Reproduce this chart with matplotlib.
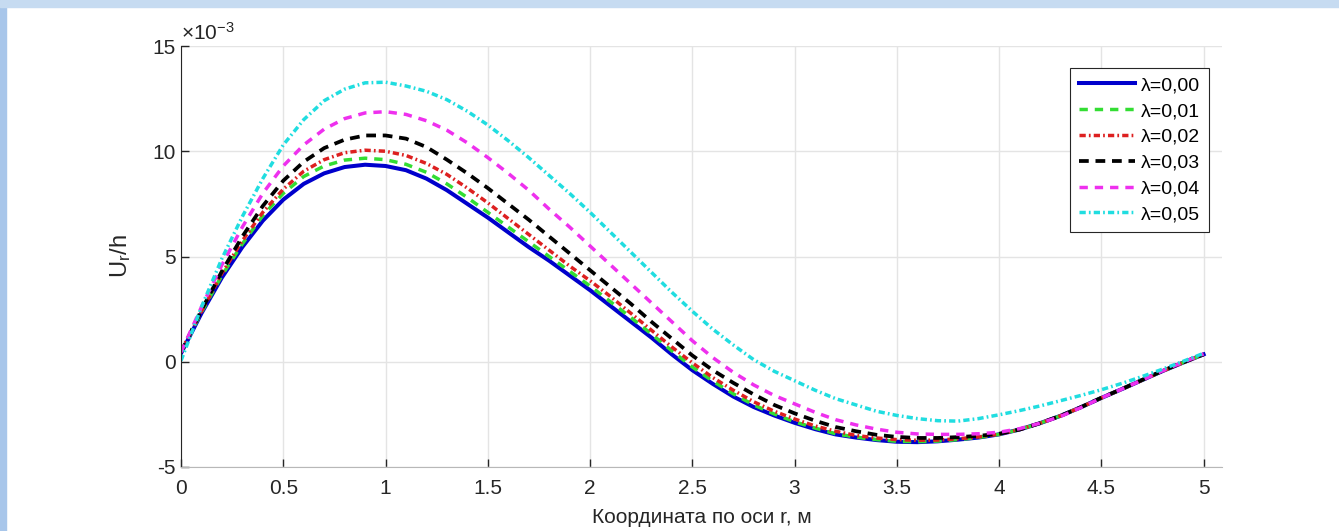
import numpy as np
import matplotlib.pyplot as plt
from matplotlib.patches import Rectangle

plt.rcParams['font.family'] = ['Liberation Sans', 'DejaVu Sans']
plt.rcParams['mathtext.fontset'] = 'custom'
plt.rcParams['mathtext.rm'] = 'Liberation Sans'
plt.rcParams['mathtext.it'] = 'Liberation Sans'
plt.rcParams['axes.unicode_minus'] = False

# coordinate along r, m (step 0.1)
r = np.linspace(0, 5, 51)

# U_r/h, x 1e-3
u_000 = [0.40, 2.30, 4.00, 5.45, 6.70, 7.70, 8.45, 8.95, 9.25, 9.36,
         9.30, 9.10, 8.70, 8.15, 7.50, 6.85, 6.15, 5.45, 4.80, 4.10,
         3.40, 2.65, 1.90, 1.15, 0.35, -0.40, -1.05, -1.65, -2.15, -2.55,
         -2.90, -3.20, -3.45, -3.60, -3.72, -3.80, -3.82, -3.78, -3.70, -3.60,
         -3.45, -3.22, -2.92, -2.57, -2.16, -1.72, -1.30, -0.87, -0.44, -0.04,
         0.35]
u_001 = [0.45, 2.35, 4.10, 5.60, 6.95, 8.00, 8.80, 9.30, 9.58, 9.67,
         9.60, 9.38, 9.00, 8.45, 7.80, 7.10, 6.40, 5.70, 5.00, 4.30,
         3.60, 2.85, 2.10, 1.32, 0.52, -0.25, -0.92, -1.52, -2.05, -2.48,
         -2.85, -3.15, -3.42, -3.58, -3.70, -3.78, -3.80, -3.77, -3.70, -3.60,
         -3.45, -3.22, -2.92, -2.57, -2.16, -1.72, -1.30, -0.87, -0.44, -0.04,
         0.35]
u_002 = [0.50, 2.40, 4.20, 5.75, 7.10, 8.20, 9.05, 9.60, 9.93, 10.05,
         10.00, 9.80, 9.42, 8.90, 8.25, 7.55, 6.80, 6.05, 5.30, 4.55,
         3.85, 3.10, 2.30, 1.50, 0.70, -0.05, -0.75, -1.35, -1.90, -2.35,
         -2.72, -3.05, -3.30, -3.50, -3.62, -3.70, -3.73, -3.72, -3.66, -3.57,
         -3.44, -3.22, -2.92, -2.57, -2.16, -1.72, -1.30, -0.87, -0.44, -0.04,
         0.35]
u_003 = [0.45, 2.45, 4.30, 5.95, 7.40, 8.60, 9.50, 10.15, 10.55, 10.75,
         10.75, 10.60, 10.20, 9.60, 8.95, 8.25, 7.50, 6.75, 5.95, 5.15,
         4.35, 3.55, 2.75, 1.90, 1.10, 0.30, -0.40, -1.00, -1.55, -2.05,
         -2.45, -2.80, -3.10, -3.30, -3.47, -3.57, -3.62, -3.62, -3.58, -3.52,
         -3.42, -3.22, -2.92, -2.57, -2.16, -1.71, -1.30, -0.86, -0.43, -0.03,
         0.35]
u_004 = [0.45, 2.60, 4.60, 6.40, 8.00, 9.30, 10.30, 11.05, 11.55, 11.82,
         11.88, 11.75, 11.45, 11.00, 10.40, 9.70, 8.95, 8.15, 7.25, 6.40,
         5.50, 4.60, 3.70, 2.80, 1.90, 1.00, 0.20, -0.50, -1.10, -1.60,
         -2.00, -2.40, -2.75, -3.00, -3.20, -3.35, -3.43, -3.45, -3.45, -3.42,
         -3.35, -3.18, -2.92, -2.60, -2.18, -1.72, -1.30, -0.87, -0.43, -0.02,
         0.37]
u_005 = [0.05, 2.60, 4.90, 6.90, 8.70, 10.30, 11.50, 12.40, 12.95, 13.25,
         13.28, 13.10, 12.85, 12.45, 11.90, 11.25, 10.50, 9.70, 8.85, 8.00,
         7.10, 6.15, 5.20, 4.25, 3.30, 2.40, 1.55, 0.80, 0.10, -0.45,
         -0.90, -1.35, -1.75, -2.05, -2.35, -2.55, -2.70, -2.80, -2.82, -2.70,
         -2.52, -2.32, -2.10, -1.85, -1.60, -1.33, -1.03, -0.70, -0.35, 0.02,
         0.40]

labels = ['λ=0,00', 'λ=0,01', 'λ=0,02', 'λ=0,03', 'λ=0,04', 'λ=0,05']
series = [u_000, u_001, u_002, u_003, u_004, u_005]
colors = ['#0000cc', '#33dd33', '#dd2020', '#000000', '#ee30ee', '#20dde0']
widths = [2.9, 2.5, 2.5, 2.7, 2.5, 2.5]
dashes = [None, (2.4, 2.0), (1.8, 0.9, 0.5, 0.9), (2.6, 1.8), (2.4, 2.0), (1.8, 0.9, 0.5, 0.9)]

fig = plt.figure(figsize=(13.39, 5.31), dpi=100)
fig.patches.append(Rectangle((0, 0), 6 / 1339, 1, transform=fig.transFigure,
                             color='#a8c6ea', zorder=0))
fig.patches.append(Rectangle((0, 1 - 7 / 531), 1, 7 / 531, transform=fig.transFigure,
                             color='#c6dbf1', zorder=0))

ax = fig.add_axes([181 / 1339, 1 - 467 / 531, (1222 - 181) / 1339, (467 - 46) / 531])

for y, lab, c, w, d in zip(series, labels, colors, widths, dashes):
    ln, = ax.plot(r, y, color=c, lw=w, label=lab)
    if d is not None:
        ln.set_dashes(d)

ax.set_xlim(0, 5.09)
ax.set_ylim(-5, 15)
ax.set_xticks(np.arange(0, 5.01, 0.5))
ax.set_xticklabels(['0', '0.5', '1', '1.5', '2', '2.5', '3', '3.5', '4', '4.5', '5'])
ax.set_yticks([-5, 0, 5, 10, 15])
ax.grid(True, color='#e4e4e4', lw=1)
ax.set_axisbelow(True)
ax.spines['top'].set_visible(False)
ax.spines['right'].set_visible(False)
ax.spines['left'].set_color('#262626')
ax.spines['bottom'].set_color('#b8b8b8')
ax.tick_params(direction='in', length=6, width=1, colors='#262626', labelsize=15, pad=4)
ax.tick_params(axis='x', pad=9)

ax.set_xlabel('Координата по оси r, м', fontsize=15, color='#262626', labelpad=7)
ax.set_ylabel(r'$\mathregular{U_r/h}$', fontsize=17, color='#262626', labelpad=14)
ax.text(0.0, 1.005, r'$\mathregular{\times10^{-3}}$', transform=ax.transAxes,
        fontsize=15, color='#262626', ha='left', va='bottom')

leg = ax.legend(loc='upper right', bbox_to_anchor=(0.9875, 0.948), fontsize=14,
                frameon=True, fancybox=False, edgecolor='#262626', framealpha=1,
                handlelength=2.9, handletextpad=0.3, labelspacing=0.42,
                borderpad=0.45, borderaxespad=0)
leg.get_frame().set_linewidth(0.8)

fig.savefig('out.png', dpi=100)
